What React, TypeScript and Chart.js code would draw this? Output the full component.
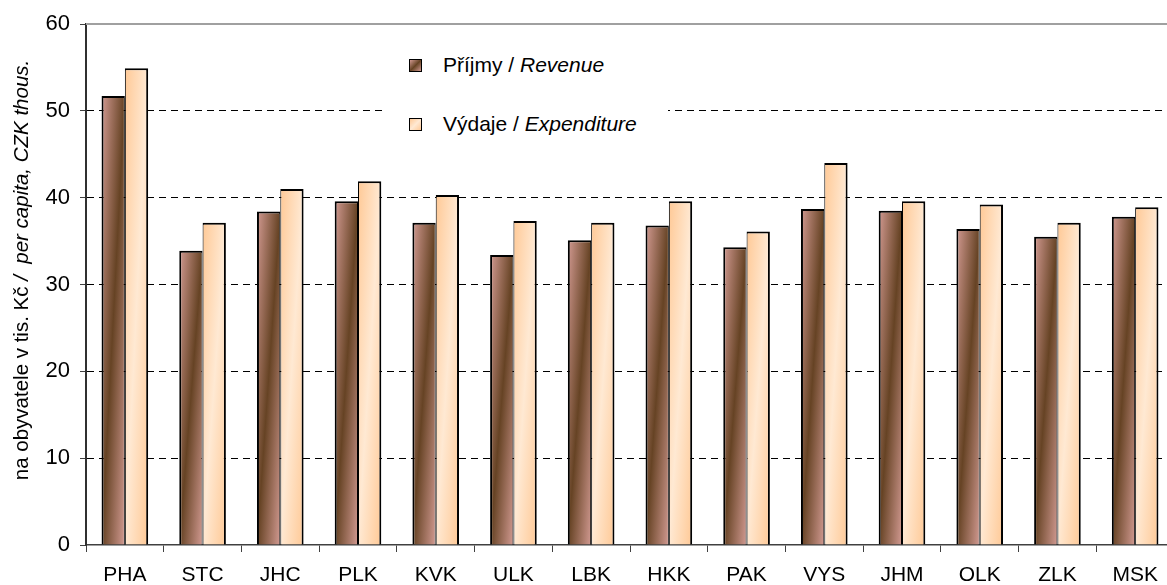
import React, { useEffect, useRef } from "react";
import { Chart, registerables } from "chart.js";

Chart.register(...registerables);

const categories = ["PHA", "STC", "JHC", "PLK", "KVK", "ULK", "LBK", "HKK", "PAK", "VYS", "JHM", "OLK", "ZLK", "MSK"];
const revenue = [51.7, 33.9, 38.4, 39.6, 37.1, 33.4, 35.1, 36.8, 34.3, 38.7, 38.5, 36.4, 35.5, 37.8];
const expenditure = [54.9, 37.1, 41.0, 41.9, 40.3, 37.3, 37.1, 39.6, 36.1, 44.0, 39.6, 39.2, 37.1, 38.9];
const yTicks = [0, 10, 20, 30, 40, 50, 60];
const seriesNormal = ["Příjmy / ", "Výdaje / "];
const seriesItalic = ["Revenue", "Expenditure"];
const titleNormal = "na obyvatele v tis. Kč ";
const titleItalic = "/  per capita, CZK thous.";

const FONT = "'Liberation Sans', Arial, Helvetica, sans-serif";
const CAT_PCT = 0.6;
const REV = ["#d29a92", "#664324"];
const EXP = ["#ffc996", "#ffe9d3"];

function barFill(c: any, stops: string[]) {
  const chart = c.chart;
  const xs = chart.scales && chart.scales.x;
  const ys = chart.scales && chart.scales.y;
  if (!xs || !ys || c.type !== "data") return stops[1];
  const i = c.dataIndex;
  const v = c.raw;
  const center = xs.getPixelForValue(i);
  const catW = xs.width / categories.length;
  const bw = (catW * CAT_PCT) / 2;
  const left = c.datasetIndex === 0 ? center - bw : center;
  const top = ys.getPixelForValue(v);
  const bottom = ys.getPixelForValue(0);
  if (!isFinite(left) || !isFinite(top) || !isFinite(bottom) || bw <= 0) return stops[1];
  const w = bw;
  const h = Math.max(1, bottom - top);
  const gx = 1 / (2 * w);
  const gy = 1 / (2 * h);
  const n = gx * gx + gy * gy;
  const g = chart.ctx.createLinearGradient(left, top, left + gx / n, top + gy / n);
  g.addColorStop(0, stops[0]);
  g.addColorStop(0.5, stops[1]);
  g.addColorStop(1, stops[0]);
  return g;
}

const decorations = {
  id: "decorations",
  afterDraw(chart: any) {
    const { ctx, chartArea } = chart;
    ctx.save();
    ctx.strokeStyle = "#a0a0a0";
    ctx.lineWidth = 2;
    ctx.beginPath();
    ctx.moveTo(chartArea.left, chartArea.top);
    ctx.lineTo(chartArea.right + 10, chartArea.top);
    ctx.stroke();

    // rotated y-axis title with mixed styles
    ctx.translate(28, 270);
    ctx.rotate(-Math.PI / 2);
    ctx.fillStyle = "#000";
    ctx.textBaseline = "alphabetic";
    ctx.textAlign = "left";
    const fN = `20.5px ${FONT}`;
    const fI = `italic 20.5px ${FONT}`;
    ctx.font = fN;
    const wN = ctx.measureText(titleNormal).width;
    ctx.font = fI;
    const wI = ctx.measureText(titleItalic).width;
    const x0 = -(wN + wI) / 2;
    ctx.font = fN;
    ctx.fillText(titleNormal, x0, 0);
    ctx.font = fI;
    ctx.fillText(titleItalic, x0 + wN, 0);
    ctx.restore();
  },
};

export default function App() {
  const ref = useRef<HTMLCanvasElement>(null);

  useEffect(() => {
    if (!ref.current) return;
    const chart = new Chart(ref.current, {
      type: "bar",
      data: {
        labels: categories,
        datasets: [
          {
            label: seriesNormal[0] + seriesItalic[0],
            data: revenue,
            backgroundColor: (c: any) => barFill(c, REV),
            borderColor: "#000",
            borderWidth: { top: 2, left: 2, right: 1, bottom: 0 },
            borderSkipped: "start",
            categoryPercentage: CAT_PCT,
            barPercentage: 1,
          },
          {
            label: seriesNormal[1] + seriesItalic[1],
            data: expenditure,
            backgroundColor: (c: any) => barFill(c, EXP),
            borderColor: "#000",
            borderWidth: { top: 2, left: 1, right: 2, bottom: 0 },
            borderSkipped: "start",
            categoryPercentage: CAT_PCT,
            barPercentage: 1,
          },
        ],
      },
      options: {
        responsive: false,
        animation: false,
        layout: { padding: { top: 24, right: 6, left: 0, bottom: 0 } },
        plugins: { legend: { display: false }, tooltip: { enabled: false } },
        scales: {
          x: {
            offset: true,
            grid: {
              display: true,
              drawOnChartArea: false,
              drawTicks: true,
              tickLength: 7,
              tickColor: "#404040",
              tickWidth: 1,
              offset: true,
            },
            border: { display: true, color: "#404040", width: 1.5 },
            ticks: { color: "#000", font: { family: FONT, size: 21 }, padding: 11, maxRotation: 0, autoSkip: false },
            afterFit: (s: any) => {
              s.height = 40;
            },
          },
          y: {
            min: 0,
            max: 60,
            afterBuildTicks: (s: any) => {
              s.ticks = yTicks.map((v) => ({ value: v }));
            },
            ticks: { color: "#000", font: { family: FONT, size: 22 }, padding: 10 },
            grid: {
              color: (c: any) =>
                c.tick && (c.tick.value === 0 || c.tick.value === 60) ? "rgba(0,0,0,0)" : "#000",
              lineWidth: 1,
              tickLength: 6,
              tickColor: "#404040",
              drawTicks: true,
            },
            border: { display: true, color: "#303030", width: 2, dash: [7, 5] },
            afterFit: (s: any) => {
              s.width = 86;
            },
          },
        },
      },
      plugins: [decorations],
    } as any);
    return () => chart.destroy();
  }, []);

  const marker = (top: number, stops: string[]) => (
    <div
      style={{
        position: "absolute",
        left: 409,
        top,
        width: 11,
        height: 11,
        border: "1.5px solid #000",
        background: `linear-gradient(135deg, ${stops[0]} 0%, ${stops[1]} 50%, ${stops[0]} 100%)`,
      }}
    />
  );
  const text = (top: number, i: number) => (
    <div
      style={{
        position: "absolute",
        left: 443,
        top,
        fontFamily: FONT,
        fontSize: 21,
        lineHeight: "21px",
        color: "#000",
        whiteSpace: "nowrap",
      }}
    >
      {seriesNormal[i]}
      <i>{seriesItalic[i]}</i>
    </div>
  );

  return (
    <div
      style={{
        position: "fixed",
        left: 0,
        top: 0,
        width: 1167,
        height: 585,
        overflow: "hidden",
        background: "#fff",
      }}
    >
      <canvas ref={ref} width={1180} height={585} style={{ display: "block" }} />
      <div style={{ position: "absolute", left: 383, top: 40, width: 285, height: 108, background: "#fff" }} />
      {marker(59, REV)}
      {text(54, 0)}
      {marker(118, EXP)}
      {text(113, 1)}
    </div>
  );
}
